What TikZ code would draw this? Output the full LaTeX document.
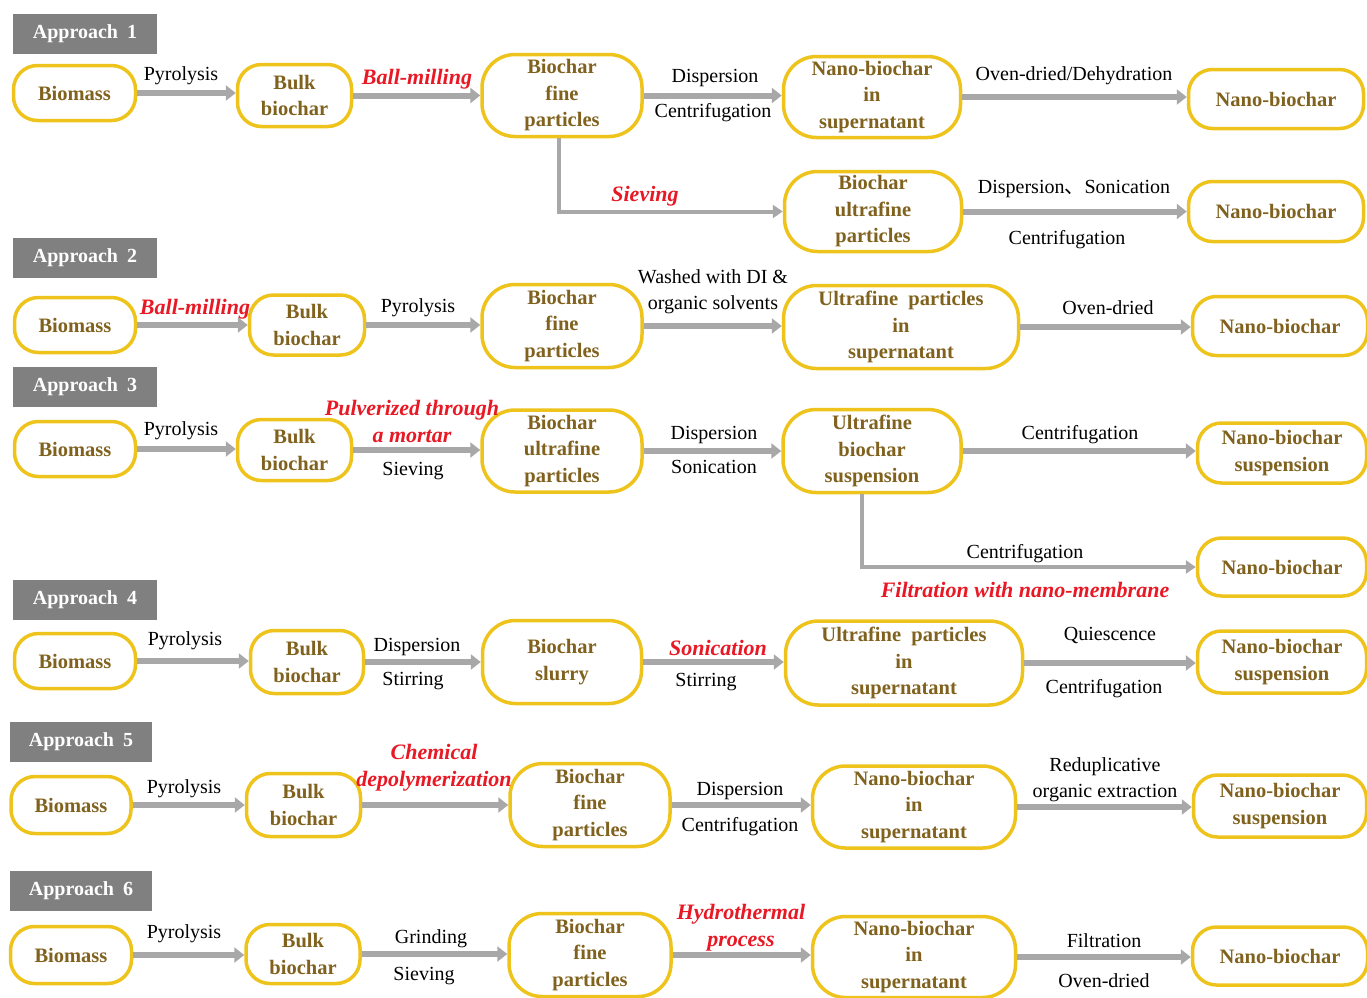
\documentclass[tikz,border=0pt]{standalone}
\usepackage{fontspec}
\setmainfont{Liberation Serif}
\newfontfamily\cjkfont{Noto Sans CJK SC}
\usetikzlibrary{arrows.meta}
\definecolor{pillyellow}{RGB}{238,196,28}
\definecolor{pilltext}{RGB}{128,98,30}
\definecolor{arrowgray}{RGB}{168,168,168}
\definecolor{tagGray}{RGB}{128,128,128}
\definecolor{keyred}{RGB}{232,24,36}
\tikzset{
 pill/.style={draw=pillyellow, line width=3.5pt, rounded corners=24pt, text=pilltext,
   font=\fontsize{20.5}{26.5}\selectfont\bfseries, align=center, inner sep=0pt},
 bigpill/.style={pill, rounded corners=33pt},
 tag/.style={fill=tagGray, text=white, font=\fontsize{20}{24}\selectfont\bfseries,
   minimum width=144pt, minimum height=40pt, inner sep=0pt},
 lab/.style={font=\fontsize{20}{26}\selectfont, text=black, inner sep=0pt, align=center, yshift=-2.5pt},
 key/.style={font=\fontsize{22}{27}\selectfont\bfseries\itshape, text=keyred, inner sep=0pt, align=center, yshift=-2.5pt},
 flow/.style={draw=arrowgray, line width=6pt, -{Triangle[length=10pt,width=15pt]}},
 branch/.style={draw=arrowgray, line width=4pt, -{Triangle[length=10pt,width=13pt]}},
}
\begin{document}
\begin{tikzpicture}[x=1pt,y=-1pt]
\useasboundingbox (0,0) rectangle (1367,997);
\clip (0,0) rectangle (1367,997);
\fill[white] (0,0) rectangle (1367,997);

% ---------- Approach 1 ----------
\node[tag] (t1) at (85,34) {Approach\hspace{0.45em}1};
\node[pill, minimum width=122pt, minimum height=55pt] (a1bio) at (74.5,93) {Biomass};
\node[pill, minimum width=114pt, minimum height=62pt] (a1bulk) at (294.5,95.5) {Bulk\\biochar};
\node[bigpill, minimum width=160pt, minimum height=82pt] (a1fine) at (562,95.5) {Biochar\\fine\\particles};
\node[bigpill, minimum width=177pt, minimum height=81pt] (a1nsup) at (872,97) {Nano-biochar\\in\\supernatant};
\node[pill, minimum width=175pt, minimum height=59pt] (a1nb) at (1276,99) {Nano-biochar};
\node[bigpill, minimum width=177pt, minimum height=80pt] (a1ultra) at (873,211.5) {Biochar\\ultrafine\\particles};
\node[pill, minimum width=175pt, minimum height=60pt] (a1nb2) at (1276,211.5) {Nano-biochar};

\draw[flow] (a1bio.east) -- (a1bio.east -| a1bulk.west);
\draw[flow] (a1bulk.east) -- (a1bulk.east -| a1fine.west);
\draw[flow] (a1fine.east) -- (a1fine.east -| a1nsup.west);
\draw[flow] (a1nsup.east) -- (a1nsup.east -| a1nb.west);
\draw[branch] ([xshift=-3pt]a1fine.south) |- (a1ultra.west);
\draw[flow] (a1ultra.east) -- (a1ultra.east -| a1nb2.west);

\node[lab] (l1a) at (181,73) {Pyrolysis};
\node[key] (l1b) at (417,77) {Ball-milling};
\node[lab] (l1c) at (715,76) {Dispersion};
\node[lab] (l1d) at (713,110) {Centrifugation};
\node[lab] (l1e) at (1074,73) {Oven-dried/Dehydration};
\node[key] (l1f) at (645,194) {Sieving};
\node[lab] (l1g) at (1074,186) {Dispersion{\cjkfont 、}Sonication};
\node[lab] (l1h) at (1067,237) {Centrifugation};

% ---------- Approach 2 ----------
\node[tag] (t2) at (85,258) {Approach\hspace{0.45em}2};
\node[pill, minimum width=121pt, minimum height=55pt] (a2bio) at (75,325) {Biomass};
\node[pill, minimum width=115pt, minimum height=60pt] (a2bulk) at (307,325) {Bulk\\biochar};
\node[bigpill, minimum width=160pt, minimum height=83pt] (a2fine) at (562,326) {Biochar\\fine\\particles};
\node[bigpill, minimum width=235pt, minimum height=83pt] (a2usup) at (901,327) {Ultrafine\hspace{0.5em}particles\\in\\supernatant};
\node[pill, minimum width=175pt, minimum height=59pt] (a2nb) at (1280,326) {Nano-biochar};

\draw[flow] (a2bio.east) -- (a2bio.east -| a2bulk.west);
\draw[flow] (a2bulk.east) -- (a2bulk.east -| a2fine.west);
\draw[flow] (a2fine.east) -- (a2fine.east -| a2usup.west);
\draw[flow] (a2usup.east) -- (a2usup.east -| a2nb.west);

\node[key] (l2a) at (195,307) {Ball-milling};
\node[lab] (l2b) at (418,305) {Pyrolysis};
\node[lab] (l2c) at (713,289) {Washed with DI \&\\organic solvents};
\node[lab] (l2d) at (1108,305) {Oven-dried};

% ---------- Approach 3 ----------
\node[tag] (t3) at (85,387) {Approach\hspace{0.45em}3};
\node[pill, minimum width=121pt, minimum height=55pt] (a3bio) at (75,449) {Biomass};
\node[pill, minimum width=114pt, minimum height=61pt] (a3bulk) at (294.5,450) {Bulk\\biochar};
\node[bigpill, minimum width=160pt, minimum height=82pt] (a3ufine) at (562,451) {Biochar\\ultrafine\\particles};
\node[bigpill, minimum width=178pt, minimum height=83pt] (a3usus) at (872,451) {Ultrafine\\biochar\\suspension};
\node[pill, minimum width=169pt, minimum height=60pt] (a3nbs) at (1282,453) {Nano-biochar\\suspension};
\node[pill, minimum width=169pt, minimum height=58pt] (a3nb) at (1282,567) {Nano-biochar};

\draw[flow] (a3bio.east) -- (a3bio.east -| a3bulk.west);
\draw[flow] (a3bulk.east) -- (a3bulk.east -| a3ufine.west);
\draw[flow] (a3ufine.east) -- (a3ufine.east -| a3usus.west);
\draw[flow] (a3usus.east) -- (a3usus.east -| a3nbs.west);
\draw[branch] ([xshift=-10pt]a3usus.south) |- (a3nb.west);

\node[lab] (l3a) at (181,428) {Pyrolysis};
\node[key] (l3b) at (412,419) {Pulverized through\\a mortar};
\node[lab] (l3c) at (413,469) {Sieving};
\node[lab] (l3d) at (714,432) {Dispersion};
\node[lab] (l3e) at (714,464) {Sonication};
\node[lab] (l3f) at (1080,432) {Centrifugation};
\node[lab] (l3g) at (1025,551) {Centrifugation};
\node[key] (l3h) at (1025,587) {Filtration with nano-membrane};

% ---------- Approach 4 ----------
\node[tag] (t4) at (85,600) {Approach\hspace{0.45em}4};
\node[pill, minimum width=121pt, minimum height=55pt] (a4bio) at (75,661) {Biomass};
\node[pill, minimum width=113pt, minimum height=63pt] (a4bulk) at (307,662) {Bulk\\biochar};
\node[bigpill, minimum width=159pt, minimum height=83pt] (a4slurry) at (562,662) {Biochar\\slurry};
\node[bigpill, minimum width=237pt, minimum height=84pt] (a4usup) at (904,663) {Ultrafine\hspace{0.5em}particles\\in\\supernatant};
\node[pill, minimum width=169pt, minimum height=62pt] (a4nbs) at (1282,662) {Nano-biochar\\suspension};

\draw[flow] (a4bio.east) -- (a4bio.east -| a4bulk.west);
\draw[flow] (a4bulk.east) -- (a4bulk.east -| a4slurry.west);
\draw[flow] (a4slurry.east) -- (a4slurry.east -| a4usup.west);
\draw[flow] (a4usup.east) -- (a4usup.east -| a4nbs.west);

\node[lab] (l4a) at (185,638) {Pyrolysis};
\node[lab] (l4b) at (417,644) {Dispersion};
\node[lab] (l4c) at (413,679) {Stirring};
\node[key] (l4d) at (718,645) {Sonication};
\node[lab] (l4e) at (706,680) {Stirring};
\node[lab] (l4f) at (1110,633) {Quiescence};
\node[lab] (l4g) at (1104,686) {Centrifugation};

% ---------- Approach 5 ----------
\node[tag, minimum width=142pt] (t5) at (81,742) {Approach\hspace{0.45em}5};
\node[pill, minimum width=120pt, minimum height=57pt] (a5bio) at (71,805) {Biomass};
\node[pill, minimum width=114pt, minimum height=63pt] (a5bulk) at (303.5,805) {Bulk\\biochar};
\node[bigpill, minimum width=160pt, minimum height=83pt] (a5fine) at (590,805) {Biochar\\fine\\particles};
\node[bigpill, minimum width=203pt, minimum height=82pt] (a5nsup) at (914,807) {Nano-biochar\\in\\supernatant};
\node[pill, minimum width=173pt, minimum height=62pt] (a5nbs) at (1280,806) {Nano-biochar\\suspension};

\draw[flow] (a5bio.east) -- (a5bio.east -| a5bulk.west);
\draw[flow] (a5bulk.east) -- (a5bulk.east -| a5fine.west);
\draw[flow] (a5fine.east) -- (a5fine.east -| a5nsup.west);
\draw[flow] (a5nsup.east) -- (a5nsup.east -| a5nbs.west);

\node[lab] (l5a) at (184,786) {Pyrolysis};
\node[key] (l5b) at (434,765) {Chemical\\depolymerization};
\node[lab] (l5c) at (740,788) {Dispersion};
\node[lab] (l5d) at (740,824) {Centrifugation};
\node[lab] (l5e) at (1105,777) {Reduplicative\\organic extraction};

% ---------- Approach 6 ----------
\node[tag, minimum width=142pt] (t6) at (81,891) {Approach\hspace{0.45em}6};
\node[pill, minimum width=121pt, minimum height=57pt] (a6bio) at (71,955) {Biomass};
\node[pill, minimum width=114pt, minimum height=59pt] (a6bulk) at (303,954) {Bulk\\biochar};
\node[bigpill, minimum width=162pt, minimum height=83pt] (a6fine) at (590,955) {Biochar\\fine\\particles};
\node[bigpill, minimum width=203pt, minimum height=81pt] (a6nsup) at (914,957) {Nano-biochar\\in\\supernatant};
\node[pill, minimum width=175pt, minimum height=58pt] (a6nb) at (1280,956) {Nano-biochar};

\draw[flow] (a6bio.east) -- (a6bio.east -| a6bulk.west);
\draw[flow] (a6bulk.east) -- (a6bulk.east -| a6fine.west);
\draw[flow] (a6fine.east) -- (a6fine.east -| a6nsup.west);
\draw[flow] (a6nsup.east) -- (a6nsup.east -| a6nb.west);

\node[lab] (l6a) at (184,931) {Pyrolysis};
\node[lab] (l6b) at (431,936) {Grinding};
\node[lab] (l6c) at (424,974) {Sieving};
\node[key] (l6d) at (741,925) {Hydrothermal\\process};
\node[lab] (l6e) at (1104,938) {Filtration};
\node[lab] (l6f) at (1104,978) {Oven-dried};
\end{tikzpicture}
\end{document}
